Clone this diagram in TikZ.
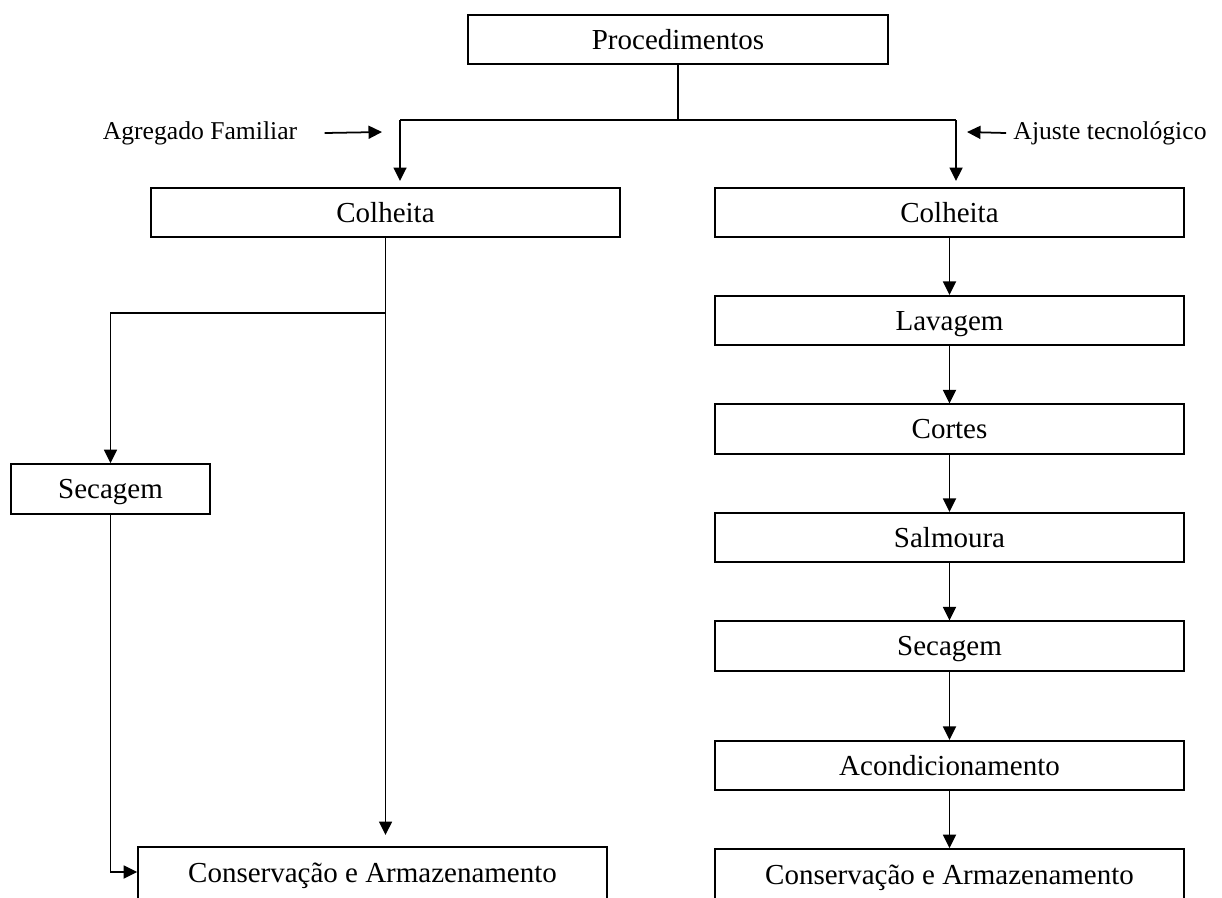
\documentclass[tikz,border=0pt]{standalone}
\usepackage{fontspec}
\setmainfont{Liberation Serif}
\usepackage{tikz}
\usetikzlibrary{arrows.meta,positioning}
\tikzset{
  box/.style={draw=black, line width=1pt, minimum width=9.38cm, minimum height=0.99cm, inner sep=0pt, text height=10.9pt, text depth=0pt, font=\fontsize{16.5}{19}\selectfont},
  openbox/.style={box, minimum height=1.4cm, text height=0.4cm, text depth=0.4cm},
  conn/.style={draw=black, line width=1pt},
  flow/.style={conn, -{Triangle[length=2.7mm, width=2.6mm]}},
  lab/.style={inner sep=0pt, font=\fontsize{14.6}{17}\selectfont},
}
\begin{document}
\begin{tikzpicture}[x=0.02cm, y=-0.02cm]
\clip (0,0) rectangle (1222,897);
\fill[white] (0,0) rectangle (1222,897);
% top
\node[box, minimum width=8.4cm] (proc) at (678,39.5) {Procedimentos};
\node[lab] (agr) at (200,133) {Agregado Familiar};
\node[lab] (ajs) at (1110,133) {Ajuste tecnológico};
\coordinate (brL) at (400,120);
\coordinate (brR) at (956,120);
\coordinate (tipL) at (400,181);
\coordinate (tipR) at (956,181);
\coordinate (agrTip) at (382,132);
\coordinate (ajsTip) at (967,132);
\draw[conn] (proc.south) -- (proc.south |- brL);
\draw[conn] (brL) -- (brR);
\draw[flow] (brL) -- (tipL);
\draw[flow] (brR) -- (tipR);
\draw[flow] ([xshift=0.54cm]agr.east) -- (agrTip);
\draw[flow] ([xshift=-0.14cm]ajs.west) -- (ajsTip);
% left column
\node[box] (colL) at (385.5,212.5) {Colheita};
\node[box, minimum width=3.98cm, minimum height=1cm] (secL) at (110.5,489) {Secagem};
\node[openbox] (conL) at (372.5,882) {Conservação e Armazenamento};
\coordinate (brS) at (0,313);
\coordinate (tipC) at (0,835);
\coordinate (inC) at (0,872);
\draw[flow] (colL.south) -- (colL.south |- tipC);
\draw[flow] (colL.south |- brS) -| (secL.north);
\draw[flow] (secL.south) |- (conL.west |- inC);
% right column
\node[box] (colR) at (949.5,212.5) {Colheita};
\node[box] (lav) at (949.5,320.5) {Lavagem};
\node[box] (cor) at (949.5,429) {Cortes};
\node[box] (sal) at (949.5,537.5) {Salmoura};
\node[box] (secR) at (949.5,646) {Secagem};
\node[box] (aco) at (949.5,765.5) {Acondicionamento};
\node[openbox] (conR) at (949.5,884) {Conservação e Armazenamento};
\draw[flow] (colR) -- (lav);
\draw[flow] (lav) -- (cor);
\draw[flow] (cor) -- (sal);
\draw[flow] (sal) -- (secR);
\draw[flow] (secR) -- (aco);
\draw[flow] (aco) -- (conR);
\end{tikzpicture}
\end{document}
